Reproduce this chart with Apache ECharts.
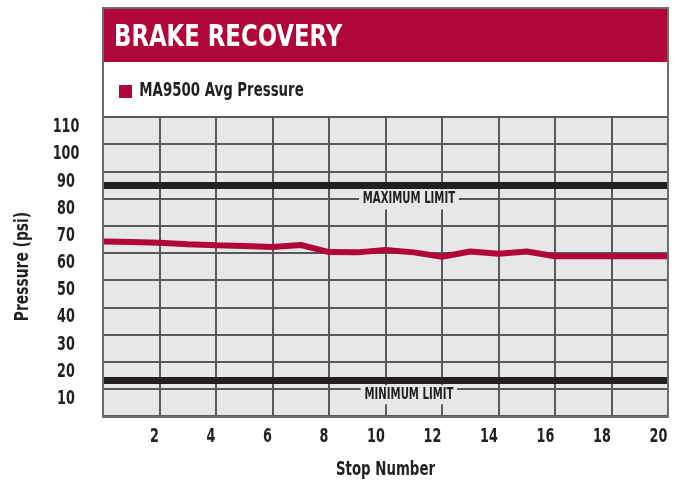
<!DOCTYPE html>
<html>
<head>
<meta charset="utf-8">
<title>Brake Recovery</title>
<script src="https://cdn.jsdelivr.net/npm/echarts@6/dist/echarts.min.js"></script>
<style>
  html, body { margin: 0; padding: 0; background: #fff; }
  #chart { width: 676px; height: 485px; }
</style>
</head>
<body>
<div id="chart"></div>
<script>
// stop number vs average pressure (psi)
const stops = [0, 1, 2, 3, 4, 5, 6, 7, 8, 9, 10, 11, 12, 13, 14, 15, 16, 17, 18, 19, 20]
const avgPressure = [64.2, 64.0, 63.7, 63.2, 62.8, 62.5, 62.2, 62.9, 60.3, 60.2, 61.1, 60.2, 58.6, 60.5, 59.7, 60.5, 58.8, 58.8, 58.8, 58.8, 58.8]
const maxLimit = 85
const minLimit = 13
// captions sit on these gridlines, a little right of the middle stop
const maxCaptionAt = [10.83, 80]
const minCaptionAt = [10.83, 10]

const FONT = "'DejaVu Sans Condensed', 'DejaVu Sans', sans-serif"
const CRIMSON = '#b1063a'
const INK = '#231f20'
const FRAME = '#6d6e71'
const PLOT_BG = '#e6e7e8'

// the original uses a bold condensed face; squeeze our text horizontally to match
const squeezeByText = {
  'BRAKE RECOVERY': 0.845,
  'MA9500 Avg Pressure': 0.78,
  'Stop Number': 0.78,
  'Pressure (psi)': 0.81,
  'MAXIMUM LIMIT': 0.75,
  'MINIMUM LIMIT': 0.75,
}
const squeezeOf = (t) => squeezeByText[t] ?? (/^\d+$/.test(t) ? 0.71 : 0.8)

const chart = echarts.init(document.getElementById('chart'), null, { renderer: 'canvas' })

const limitLine = (value) => ({
  yAxis: value,
  lineStyle: { color: INK, width: 7, type: 'solid' },
  label: { show: false },
})

const frameGraphics = [
  { type: 'rect', shape: { x: 103, y: 8, width: 565, height: 54 }, style: { fill: CRIMSON }, z: -1 },
  { type: 'rect', shape: { x: 103, y: 62, width: 565, height: 55 }, style: { fill: '#fff' }, z: -1 },
  { type: 'rect', shape: { x: 103, y: 8, width: 565, height: 409 }, style: { fill: null, stroke: FRAME, lineWidth: 2 }, z: 100 },
]

chart.setOption({
  animation: false,
  title: {
    text: 'BRAKE RECOVERY',
    left: 114,
    top: 23,
    padding: 0,
    textStyle: { color: '#fff', fontFamily: FONT, fontWeight: 'bold', fontSize: 30 },
  },
  legend: {
    data: ['MA9500 Avg Pressure'],
    left: 119,
    top: 82,
    padding: 0,
    icon: 'rect',
    itemWidth: 13,
    itemHeight: 13,
    textStyle: { color: INK, fontFamily: FONT, fontWeight: 'bold', fontSize: 19, padding: [0, 0, 0, 3] },
  },
  graphic: frameGraphics,
  grid: {
    left: 103,
    right: 8,
    top: 117,
    bottom: 68,
    show: true,
    backgroundColor: PLOT_BG,
    borderColor: FRAME,
    borderWidth: 2,
  },
  xAxis: {
    type: 'value',
    min: 0,
    max: 20,
    interval: 2,
    name: 'Stop Number',
    nameLocation: 'middle',
    nameGap: 45,
    nameTextStyle: { color: INK, fontFamily: FONT, fontWeight: 'bold', fontSize: 19 },
    axisLine: { show: false },
    axisTick: { show: false },
    axisLabel: {
      color: INK,
      fontFamily: FONT,
      fontWeight: 'bold',
      fontSize: 20,
      margin: 11,
      align: 'right',
      padding: [0, 1, 0, 0],
      formatter: (v) => (v === 0 ? '' : String(v)),
    },
    splitLine: { show: true, lineStyle: { color: '#58595b', width: 2 } },
  },
  yAxis: {
    type: 'value',
    min: 0,
    max: 110,
    interval: 10,
    name: 'Pressure (psi)',
    nameLocation: 'middle',
    nameGap: 70,
    nameTextStyle: { color: INK, fontFamily: FONT, fontWeight: 'bold', fontSize: 19 },
    axisLine: { show: false },
    axisTick: { show: false },
    axisLabel: {
      color: INK,
      fontFamily: FONT,
      fontWeight: 'bold',
      fontSize: 20,
      margin: 37,
      align: 'center',
      verticalAlign: 'top',
      formatter: (v) => (v === 0 ? '' : String(v)),
    },
    splitLine: { show: true, lineStyle: { color: '#58595b', width: 2 } },
  },
  series: [
    {
      name: 'MA9500 Avg Pressure',
      type: 'line',
      data: stops.map((s, i) => [s, avgPressure[i]]),
      symbol: 'none',
      color: CRIMSON,
      lineStyle: { color: CRIMSON, width: 6, cap: 'butt' },
      z: 6,
      markLine: {
        silent: true,
        symbol: ['none', 'none'],
        data: [limitLine(maxLimit), limitLine(minLimit)],
      },
    },
  ],
})

// limit captions: gap in the gridline, placed through the axis scales
const caption = (at, text, dy, padding) => {
  const [x, y] = chart.convertToPixel({ gridIndex: 0 }, at)
  return {
    type: 'text',
    x,
    y: y + dy,
    z: 5,
    silent: true,
    style: {
      text,
      fill: INK,
      font: 'bold 15px ' + FONT,
      lineHeight: 16,
      align: 'center',
      verticalAlign: 'middle',
      backgroundColor: PLOT_BG,
      padding,
    },
  }
}

chart.setOption({
  graphic: [
    ...frameGraphics,
    caption(maxCaptionAt, 'MAXIMUM LIMIT', 1, [3, 5, 1, 5]),
    caption(minCaptionAt, 'MINIMUM LIMIT', 6, [3, 5, 0, 5]),
  ],
})

// walk the rendered tree and condense every text element around its anchor
const condense = (el) => {
  if (el.type === 'text' && el.style && el.style.text) {
    el.originX = el.style.x || 0
    el.originY = el.style.y || 0
    el.scaleX = squeezeOf(String(el.style.text))
    el.markRedraw()
  }
  const tc = el.getTextContent && el.getTextContent()
  if (tc) condense(tc)
  if (el.isGroup) el.eachChild(condense)
}
chart.getZr().storage.getRoots().forEach(condense)
chart.getZr().refresh()
</script>
</body>
</html>
